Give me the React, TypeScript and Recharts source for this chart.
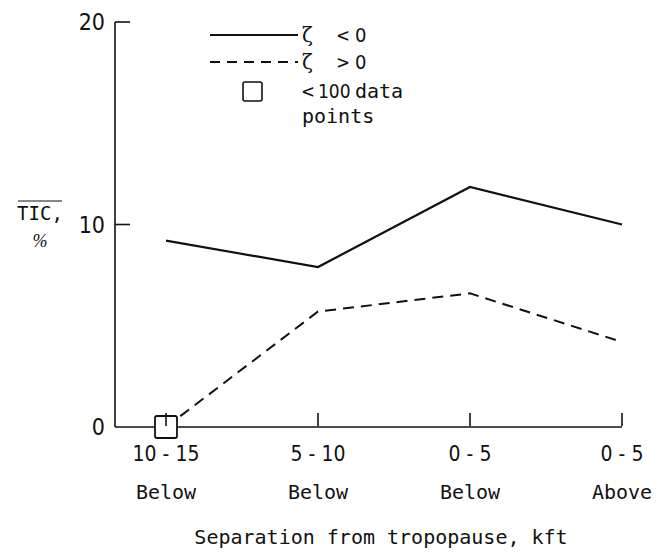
import { LineChart, Line, XAxis, YAxis } from "recharts";

const categories = ["10 - 15", "5 - 10", "0 - 5", "0 - 5"];
const positions = ["Below", "Below", "Below", "Above"];
const negZeta = [9.2, 7.9, 11.85, 10.0];
const posZeta = [0, 5.7, 6.6, 4.2];
// true where the bin had fewer than 100 data points
const fewPoints = [true, false, false, false];
const yTicks = [0, 10, 20];

const data = categories.map((c, i) => ({
  cat: `${i}`,
  range: c,
  pos: positions[i],
  neg: negZeta[i],
  posz: posZeta[i],
  few: fewPoints[i],
}));

const MONO = "'DejaVu Sans Mono', 'Liberation Mono', monospace";
const NARROW = "'Liberation Sans Narrow', 'DejaVu Sans Condensed', 'Liberation Sans', sans-serif";

const XTick = (props: any) => {
  const { x, y, payload } = props;
  const d = data[payload.index ?? Number(payload.value)];
  return (
    <g>
      <line x1={x} x2={x} y1={y - 1} y2={y - 14} stroke="#111" strokeWidth={1.6} />
      <text x={x} y={y + 34} textAnchor="middle" fontFamily={NARROW} fontSize={21} fill="#111">
        {d.range}
      </text>
      <text x={x} y={y + 72} textAnchor="middle" fontFamily={MONO} fontSize={20} fill="#111">
        {d.pos}
      </text>
    </g>
  );
};

const YTick = (props: any) => {
  const { x, y, payload } = props;
  return (
    <g>
      {payload.value > 0 ? (
        <line x1={x} x2={x + 15} y1={y} y2={y} stroke="#111" strokeWidth={1.6} />
      ) : null}
      <text x={x - 10} y={y + 8} textAnchor="end" fontFamily={NARROW} fontSize={23} fill="#111">
        {payload.value}
      </text>
    </g>
  );
};

const SquareDot = (props: any) => {
  const { cx, cy, payload } = props;
  if (!payload.few) return <g />;
  return (
    <rect x={cx - 11} y={cy - 11} width={22} height={22} rx={2} fill="#fff" stroke="#111" strokeWidth={1.8} />
  );
};

const LegendBox = () => (
  <svg
    width={220}
    height={120}
    style={{ position: "absolute", left: 210, top: 22, overflow: "visible" }}
  >
    <line x1={0} x2={88} y1={13} y2={13} stroke="#111" strokeWidth={2.2} />
    <text y={20} fontSize={20} fill="#111">
      <tspan x={92} fontFamily="'DejaVu Serif', serif">ζ</tspan>
      <tspan x={127} fontFamily={MONO}>&lt;</tspan>
      <tspan x={145} fontFamily={NARROW}>0</tspan>
    </text>
    <line x1={0} x2={88} y1={40} y2={40} stroke="#111" strokeWidth={2.2} strokeDasharray="10 7" />
    <text y={47} fontSize={20} fill="#111">
      <tspan x={92} fontFamily="'DejaVu Serif', serif">ζ</tspan>
      <tspan x={127} fontFamily={MONO}>&gt;</tspan>
      <tspan x={145} fontFamily={NARROW}>0</tspan>
    </text>
    <rect x={33} y={60} width={19} height={19} rx={2} fill="#fff" stroke="#111" strokeWidth={1.6} />
    <text y={76} fontSize={20} fill="#111">
      <tspan x={92} fontFamily={MONO}>&lt;</tspan>
      <tspan x={108} fontFamily={NARROW} fontSize={19}>100</tspan>
      <tspan x={145} fontFamily={MONO}>data</tspan>
    </text>
    <text x={92} y={101} fontFamily={MONO} fontSize={20} fill="#111">points</text>
  </svg>
);

export default function App() {
  return (
    <div style={{ position: "absolute", left: 0, top: 0, width: 662, height: 557, background: "#fff" }}>
      <LineChart
        width={662}
        height={557}
        data={data}
        margin={{ top: 22, right: 40, bottom: 20, left: 55 }}
      >
        <XAxis
          dataKey="cat"
          type="category"
          padding={{ left: 51, right: 0 }}
          axisLine={{ stroke: "#111", strokeWidth: 1.6 }}
          tickLine={false}
          tickSize={0}
          tickMargin={0}
          height={110}
          interval={0}
          tick={<XTick />}
          label={{
            content: () => (
              <text x={381} y={544} textAnchor="middle" fontFamily={MONO} fontSize={20} fill="#111">
                Separation from tropopause, kft
              </text>
            ),
          }}
        />
        <YAxis
          domain={[0, 20]}
          ticks={yTicks}
          width={60}
          axisLine={{ stroke: "#111", strokeWidth: 1.6 }}
          tickLine={false}
          tickSize={0}
          tickMargin={0}
          tick={<YTick />}
          label={{
            content: () => (
              <g>
                <line x1={18} x2={62} y1={201} y2={201} stroke="#111" strokeWidth={1.2} />
                <text x={40} y={220} textAnchor="middle" fontFamily={MONO} fontSize={19} fill="#111">
                  TIC,
                </text>
                <text x={40} y={247} textAnchor="middle" fontFamily="'Liberation Serif', serif" fontStyle="italic" fontSize={18} fill="#111">
                  %
                </text>
              </g>
            ),
          }}
        />
        <Line
          dataKey="neg"
          stroke="#111"
          strokeWidth={2.2}
          dot={false}
          type="linear"
          isAnimationActive={false}
        />
        <Line
          dataKey="posz"
          stroke="#111"
          strokeWidth={2}
          strokeDasharray="11 7"
          dot={<SquareDot />}
          activeDot={false}
          type="linear"
          isAnimationActive={false}
        />
      </LineChart>
      <LegendBox />
    </div>
  );
}
